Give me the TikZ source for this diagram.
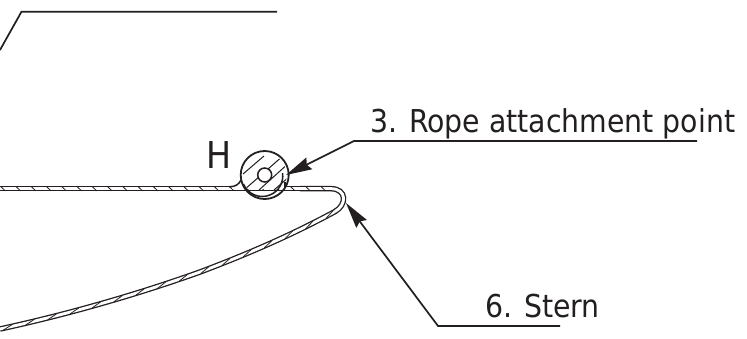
\documentclass[tikz,border=0pt]{standalone}
\usepackage{fontspec}
\setmainfont{DejaVu Sans}[Scale=1]
\newfontfamily\labelfont{DejaVu Sans Condensed}
\usetikzlibrary{arrows.meta,decorations.markings}
\definecolor{ink}{HTML}{231F20}
\tikzset{
  lbl/.style={inner sep=0pt,anchor=base west,text=ink,font=\labelfont\fontsize{31.5}{33}\selectfont},
  leader/.style={draw=ink,line width=1.7pt},
  arrowed/.style={leader,-{Stealth[length=26pt,width=13pt,inset=3pt]}},
  sheet/.style={draw=ink,line width=1.3pt,double=white,double distance=2.9pt},
  thin hatch/.style={draw=ink,line width=1pt},
  ropeline/.style={draw=ink,line width=1.5pt},
  hullhatch/.style={postaction={decorate,decoration={markings,
     mark=between positions 8pt and -1pt step 22.8pt with {\draw[ink,line width=0.8pt] (-5,1.8)--(5,-1.8);}}}},
  deckhatch/.style={postaction={decorate,decoration={markings,
     mark=between positions 3pt and -1pt step 15.25pt with {\draw[ink,line width=0.8pt] (-2.4,-2.2)--(2.4,2.2);}}}}
}
\begin{document}
\begin{tikzpicture}[x=1pt,y=-1pt]
\useasboundingbox[fill=white] (0,0) rectangle (747,338);
\coordinate (top0) at (0,50);
\coordinate (top1) at (21.5,11.7);
\coordinate (top2) at (277,11.7);
\coordinate (ropeEnd) at (697,141);
\coordinate (ropeKnee) at (354,141);
\coordinate (ropeTip) at (286,175);
\coordinate (sternEnd) at (560,326);
\coordinate (sternKnee) at (438,326);
\coordinate (sternTip) at (346,203);
\coordinate (rope) at (264.7,175);
% labels
\node[lbl] (clip) at (178,-10) {g};
\node[lbl,font=\labelfont\fontsize{37}{39}\selectfont] (H) at (206,168) {H};
\node[lbl] (ropeLabel) at (370,132) {3. Rope attachment point};
\node[lbl] (sternLabel) at (485,317) {6. Stern};
% leaders
\draw[leader] (top0) -- (top1) -- (top2);
\draw[arrowed] (ropeEnd) -- (ropeKnee) -- (ropeTip);
\draw[arrowed] (sternEnd) -- (sternKnee) -- (sternTip);
% hull and deck sheet
\draw[sheet,hullhatch] (0,329) .. controls (60,316) and (130,297) .. (200,272)
   .. controls (245,255) and (290,236) .. (336,211);
\draw[sheet] (335,211.5) .. controls (347,205) and (347,188.7) .. (331,188.7) -- (300,188.7);
\draw[sheet,deckhatch] (0,188.7) -- (332,188.7);
% rope section
\fill[white] (232,184) rectangle (284,189.4);
\begin{scope}
  \clip (rope) circle (22);
  \clip (230,140) rectangle (300,190);
  \draw[thin hatch] (243,174) -- (264,156);
  \draw[thin hatch] (244,190) -- (284,155);
  \draw[thin hatch] (259,190) -- (290,162);
  \draw[thin hatch] (274,190) -- (290,176);
\end{scope}
\draw[ropeline] (229,186.8) .. controls (236,186.8) and (239,184) .. (241,180);
\draw[ropeline] (243.4,184) arc[start angle=157,end angle=-8,radius=20.5];
\draw[ropeline] (285,182) -- (285,186.8);
\draw[draw=ink,line width=1.8pt] (rope) circle (24);
\draw[ropeline,fill=white] (rope) circle (7);
\end{tikzpicture}
\end{document}
